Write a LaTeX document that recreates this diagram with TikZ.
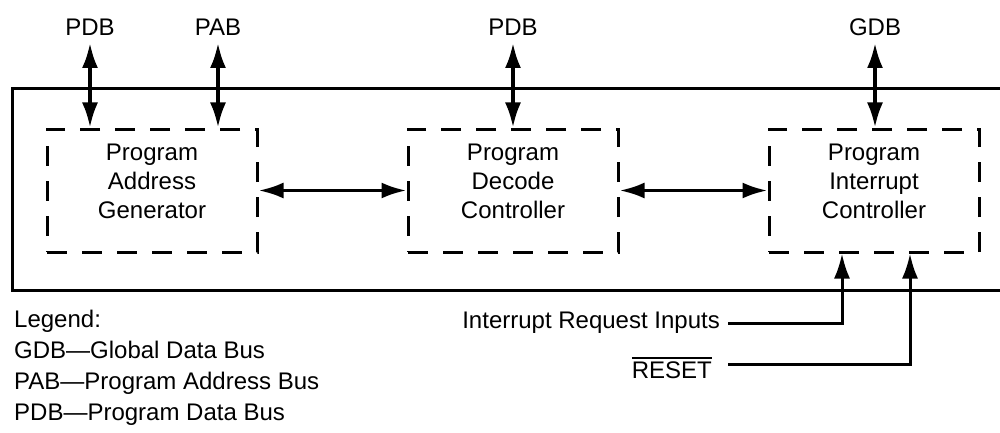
\documentclass[tikz,border=0pt]{standalone}
\usepackage{fontspec}
\setmainfont{Liberation Sans}
\usetikzlibrary{arrows.meta,positioning}
\newcommand\barred[1]{\vbox{\hrule height 2pt\kern 3pt\hbox{#1}}}

\begin{document}
\begin{tikzpicture}[x=1pt,y=-1pt,
    every node/.style={font=\fontsize{24}{29}\selectfont},
    unit/.style={draw, dash pattern=on 20pt off 15pt, line width=3pt,
        minimum width=210pt, minimum height=123pt, align=center, text depth=18pt},
    bus/.style={{Latex[length=25pt,width=16pt]}-{Latex[length=25pt,width=16pt]}, line width=3.5pt},
    sig/.style={-{Latex[length=25pt,width=16pt]}, line width=3pt},
    lbl/.style={inner sep=7pt, anchor=south},
    lgnd/.style={inner sep=0pt, anchor=base west}]
    \useasboundingbox (0,0) rectangle (1000,433);

    % Core outline (open to the right)
    \draw[line width=3pt] (1002,89) -| (12,290) -- (1002,290);

    % Units
    \node[unit] (pag) at (152,190.5) {Program\\Address\\Generator};
    \node[unit] (pdc) at (513,190.5) {Program\\Decode\\Controller};
    \node[unit] (pic) at (874,190.5) {Program\\Interrupt\\Controller};

    % Buses on top
    \node[lbl] (pdbA) at (90,43) {PDB};
    \node[lbl] (pab) at (218,43) {PAB};
    \node[lbl] (pdbB) at (513,43) {PDB};
    \node[lbl] (gdb) at (875,43) {GDB};
    \draw[bus] (pdbA.south) -- (pdbA.south |- pag.north);
    \draw[bus] (pab.south) -- (pab.south |- pag.north);
    \draw[bus] (pdbB.south) -- (pdbB.south |- pdc.north);
    \draw[bus] (gdb.south) -- (gdb.south |- pic.north);

    % Links between units
    \draw[bus] (pag) -- (pdc);
    \draw[bus] (pdc) -- (pic);

    % Inputs from below
    \coordinate (irqin) at ([xshift=-32pt]pic.south);
    \coordinate (rstin) at ([xshift=36pt]pic.south);
    \node[anchor=east, inner sep=8pt] (irq) at (728,323) {Interrupt Request Inputs};
    \node[anchor=east, inner xsep=16pt, text height=30pt] (rst) at (728,364) {\barred{RESET}};
    \draw[sig] (irq.east) -| (irqin);
    \draw[sig] (rst.east) -| (rstin);

    % Legend
    \node[lgnd] (lgd) at (14,327) {Legend:};
    \node[lgnd] (lgdG) at (14,358) {GDB—Global Data Bus};
    \node[lgnd] (lgdA) at (14,389) {PAB—Program Address Bus};
    \node[lgnd] (lgdP) at (14,420) {PDB—Program Data Bus};
\end{tikzpicture}
\end{document}
